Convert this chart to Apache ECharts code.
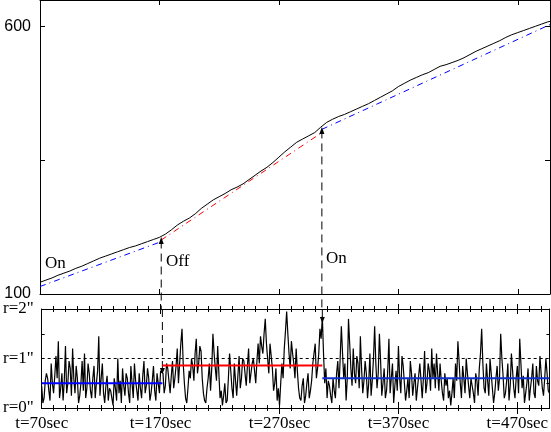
<!DOCTYPE html>
<html><head><meta charset="utf-8">
<script src="https://cdn.jsdelivr.net/npm/echarts@6/dist/echarts.min.js"></script>
<style>html,body{margin:0;padding:0;background:#fff}#c{width:551px;height:432px}</style>
</head><body><div id="c"></div>
<script>
// ---- top panel: measured curve ----
const tTop = [70,75,80,85,90,95,100,105,110,115,120,125,130,135,140,145,150,155,160,165,170,175,180,185,190,195,200,205,210,215,220,225,230,235,240,245,250,255,260,265,270,275,280,285,290,295,300,305,310,315,320,325,330,335,340,345,350,355,360,365,370,375,380,385,390,395,400,405,410,415,420,425,430,435,440,445,450,455,460,465,470,475,480,485,490,495,497];
const vTop = [122,126,130,135,139,143,148,152,157,162,167,171,175,179,183,187,190,194,198,202,206,212,220,229,236,242,250,260,268,276,282,288,295,300,306,314,322,330,337,346,356,366,375,384,390,396,402,412,421,427,432,436,441,446,451,456,462,468,474,480,488,494,500,505,510,514,520,526,529,533,537,542,548,554,559,564,569,574,580,585,589,593,597,601,605,609,610];
// ---- fitted lines (endpoints) ----
const fitOn1T = [70, 171.5],  fitOn1V = [114, 198];
const fitOffT = [171.5, 306], fitOffV = [201, 402];
const fitOn2T = [306, 497],   fitOn2V = [408, 604];
// ---- events ----
const tOff = 171.5, tOn = 306;
const offTopV = 200, onTopV = 406;
const offBottomR = 0.75, onBottomR = 1.78;
// ---- bottom panel: r values every 1 s ----
const step = 1;
const startOn1 = 70, startOff = 172, startOn2 = 307;
const rOn1 = [0.45,0.1,0.2,0.55,0.7,0.6,0.35,0.15,0.9,0.5,0.3,0.65,1.05,0.6,1.35,0.2,0.4,0.7,0.15,0.55,1.25,0.3,0.5,0.95,0.8,0.25,1.2,0.6,0.3,0.85,0.6,0.1,0.25,0.5,0.95,0.35,1.1,0.2,0.4,0.9,0.7,0.35,0.2,0.6,0.85,0.2,0.5,0.75,1.45,0.25,0.6,0.9,0.3,0.1,0.45,0.65,0.15,0.4,0.35,0.2,0.05,0.6,0.4,0.15,1.0,0.3,0.55,0.1,0.8,0.45,0.25,0.7,0.6,0.3,0.1,0.85,0.5,0.2,0.9,0.55,0.35,0.15,0.7,0.4,0.2,0.65,0.95,0.3,0.45,0.8,0.6,0.15,0.3,0.55,0.85,0.35,0.15,0.7,0.5,0.3,0.75];
const rOff = [0.7,0.3,0.45,0.9,0.8,0.55,0.3,0.65,0.95,0.4,0.6,0.85,1.2,0.5,0.9,1.3,1.6,0.9,0.5,0.2,0.1,0.4,0.75,0.6,1.0,0.85,0.55,1.1,1.4,0.7,0.9,1.25,1.15,0.6,0.3,0.15,0.1,0.4,0.6,0.9,0.35,0.8,1.5,1.1,0.8,0.55,1.25,0.7,0.2,0.35,0.05,0.25,0.5,0.1,0.15,0.6,1.1,0.75,0.4,0.2,0.9,0.55,0.25,0.65,1.05,0.4,0.6,1.0,0.95,0.7,0.45,0.85,1.2,0.5,0.7,0.9,1.0,0.75,0.5,0.95,1.3,0.9,1.45,1.25,1.1,1.5,1.8,1.3,1.0,0.7,1.3,1.05,0.8,0.35,0.5,0.8,0.15,0.4,0.05,0.5,0.9,0.6,1.2,1.55,1.95,1.5,1.1,0.8,1.35,1.1,0.9,0.6,1.2,0.75,0.4,0.2,0.15,0.45,0.6,0.1,0.25,0.5,0.7,0.2,0.35,0.55,0.9,1.1,1.3,0.6,0.8,1.1,1.6,1.4,1.85];
const rOn2 = [1.1,0.5,0.8,0.2,0.55,0.45,0.25,0.1,0.6,0.35,0.2,0.7,0.95,0.4,1.0,1.65,1.1,0.6,0.9,0.15,0.6,1.8,1.3,0.8,0.45,1.2,0.7,0.5,1.05,0.9,0.4,1.45,0.8,0.3,0.55,0.95,0.7,0.2,0.5,1.1,0.25,0.55,1.0,1.65,0.9,0.4,0.7,1.5,0.95,0.25,0.5,0.8,0.2,0.35,0.75,1.4,0.3,0.6,0.9,0.1,0.45,0.75,0.35,1.25,0.6,0.3,1.05,0.85,0.5,0.15,0.35,0.6,0.2,0.95,0.7,0.25,0.5,0.7,0.15,0.4,0.65,0.9,0.55,0.2,0.6,1.15,0.3,0.5,0.9,0.75,0.35,1.2,0.6,0.9,0.4,1.1,0.7,0.35,0.9,0.55,0.3,0.15,0.7,0.45,0.6,0.2,0.35,0.05,0.3,0.6,0.2,0.9,0.55,1.35,0.95,0.5,0.2,0.85,0.6,0.3,1.0,0.7,0.45,0.2,0.6,0.45,0.3,0.1,0.7,0.55,0.25,0.8,1.1,1.6,0.9,0.4,0.3,0.9,0.55,0.25,1.0,0.7,0.4,0.1,0.3,0.6,0.85,0.35,0.6,1.5,1.0,0.65,0.2,0.3,0.55,0.9,0.15,0.45,1.1,0.75,0.4,0.2,0.6,0.85,0.3,1.4,0.9,0.4,0.65,0.1,0.3,0.5,0.8,0.15,0.4,0.6,0.9,0.3,0.2,0.85,0.55,0.45,1.05,0.7,0.4,0.25,0.6,1.0,0.7,0.35,0.3];
const meanOn1 = 0.5, meanOff = 0.86, meanOn2 = 0.6;
const rRef = 1;
// ---- ticks / labels ----
const xMin = 70, xMax = 497;
const xLabels = [70,170,270,370,470];
const xMajor = [170,270,370,470];
const xMinor = [80,90,100,110,120,130,140,150,160,180,190,200,210,220,230,240,250,260,280,290,300,310,320,330,340,350,360,380,390,400,410,420,430,440,450,460,480,490];
const yTopLabels = [100,600], yTopTicks = [100,350,600];
const rLabels = [0,1,2], rTicks = [0.5,1.5];

const pairs = (ts, vs) => ts.map((t, i) => [t, vs[i]]);
const seq = (start, vs) => vs.map((v, i) => [start + i * step, v]);
const noise = seq(startOn1, rOn1).concat(seq(startOff, rOff), seq(startOn2, rOn2));

const serif = '"Liberation Serif", "DejaVu Serif", serif';
const sans = '"Liberation Sans", Arial, sans-serif';
const black = '#000';

function xAx(grid, pos, ticks, len, inside, labels) {
  return {
    type: 'value', gridIndex: grid, position: pos, min: xMin, max: xMax,
    axisLine: { show: true, onZero: false, lineStyle: { color: black, width: 1 } },
    axisTick: { show: true, customValues: ticks, length: len, inside: inside, lineStyle: { color: black, width: 1 } },
    axisLabel: labels ? { show: true, customValues: labels, formatter: v => 't=' + v + 'sec', color: black, fontFamily: serif, fontSize: 17, margin: 7 } : { show: false },
    splitLine: { show: false }
  };
}
function yAx(grid, pos, min, max, ticks, len, labels, fmt, font, size, margin) {
  return {
    type: 'value', gridIndex: grid, position: pos, min: min, max: max,
    axisLine: { show: true, onZero: false, lineStyle: { color: black, width: 1 } },
    axisTick: { show: true, customValues: ticks, length: len, inside: true, lineStyle: { color: black, width: 1 } },
    axisLabel: labels ? { show: true, customValues: labels, formatter: fmt, color: black, fontFamily: font, fontSize: size, margin: margin } : { show: false },
    splitLine: { show: false }
  };
}

const chart = echarts.init(document.getElementById('c'), null, { renderer: 'canvas' });
const line = (xi, yi, data, color, width, type, z, extra) => Object.assign({
  type: 'line', xAxisIndex: xi, yAxisIndex: yi, data: data, showSymbol: false, symbol: 'none',
  lineStyle: { color: color, width: width, type: type }, itemStyle: { color: color },
  z: z, silent: true, animation: false
}, extra || {});

chart.setOption({
  animation: false,
  backgroundColor: '#fff',
  grid: [
    { left: 40, top: 0, width: 510, height: 294, show: false },
    { left: 40, top: 309, width: 510, height: 104, show: false }
  ],
  xAxis: [
    xAx(0, 'bottom', xMajor, 5, true),
    xAx(0, 'top', xMajor, 5, true),
    xAx(1, 'bottom', xMajor, 6, true, xLabels),
    xAx(1, 'bottom', xMajor, 6, false),
    xAx(1, 'bottom', xMinor, 3, true),
    xAx(1, 'bottom', xMinor, 3, false),
    xAx(1, 'top', xMajor, 5, true),
    xAx(1, 'top', xMajor, 5, false),
    xAx(1, 'top', xMinor, 3, true),
    xAx(1, 'top', xMinor, 3, false)
  ],
  yAxis: [
    yAx(0, 'left', 100, 650, yTopTicks, 5, yTopLabels, v => String(v), sans, 16, 9),
    yAx(0, 'right', 100, 650, yTopTicks, 5),
    yAx(1, 'left', 0, 2, rTicks, 3, rLabels, v => 'r=' + v + '"', serif, 17, 8),
    yAx(1, 'right', 0, 2, rTicks, 3)
  ],
  series: [
    line(0, 0, pairs(fitOn1T, fitOn1V), '#0000ff', 1, [6, 4, 1, 4], 2),
    line(0, 0, pairs(fitOffT, fitOffV), '#ff0000', 1, [6, 4, 1, 4], 2),
    line(0, 0, pairs(fitOn2T, fitOn2V), '#0000ff', 1, [6, 4, 1, 4], 2),
    line(0, 0, pairs(tTop, vTop), black, 1, 'solid', 3),
    line(0, 0, [{ value: [tOff, offTopV], symbol: 'triangle', symbolSize: [5, 7] }, { value: [tOff, 70], symbol: 'none' }], black, 1, [8, 5], 4, { showSymbol: true, clip: false }),
    line(0, 0, [{ value: [tOn, onTopV], symbol: 'triangle', symbolSize: [5, 7] }, { value: [tOn, 70], symbol: 'none' }], black, 1, [8, 5], 4, { showSymbol: true, clip: false }),
    line(2, 2, [[tOff, 2], { value: [tOff, offBottomR], symbol: 'triangle', symbolRotate: 180, symbolSize: [5, 6] }], black, 1, [8, 5], 4, { showSymbol: true }),
    line(2, 2, [[tOn, 2], { value: [tOn, onBottomR], symbol: 'triangle', symbolRotate: 180, symbolSize: [5, 6] }], black, 1, [8, 5], 4, { showSymbol: true }),
    line(2, 2, [[xMin, rRef], [xMax, rRef]], black, 1, [3, 3], 1),
    line(2, 2, noise, black, 1.2, 'solid', 3),
    line(2, 2, [[xMin, meanOn1], [tOff, meanOn1]], '#0000ff', 2, 'solid', 5),
    line(2, 2, [[tOff, meanOff], [tOn, meanOff]], '#ff0000', 2, 'solid', 5),
    line(2, 2, [[tOn, meanOn2], [xMax, meanOn2]], '#1030cc', 2, 'solid', 5)
  ],
  graphic: [
    { type: 'text', left: 45, top: 255, z: 10, style: { text: 'On', font: '17px ' + serif, fill: black } },
    { type: 'text', left: 166, top: 253, z: 10, style: { text: 'Off', font: '17px ' + serif, fill: black } },
    { type: 'text', left: 326, top: 250, z: 10, style: { text: 'On', font: '17px ' + serif, fill: black } }
  ]
});
</script>
</body></html>
